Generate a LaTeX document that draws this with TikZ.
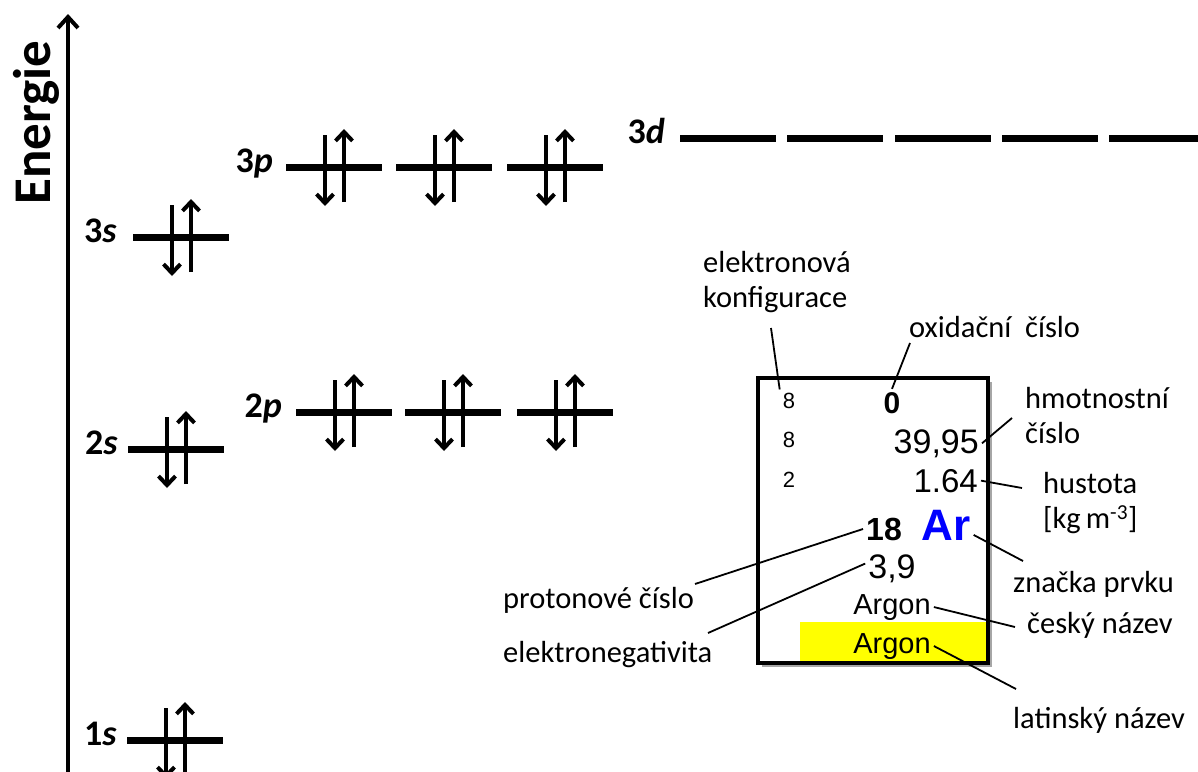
\documentclass[tikz,border=0pt]{standalone}
\usepackage{fontspec}
\setmainfont{Carlito}
\newfontfamily\arialfont{Liberation Sans}
\usetikzlibrary{arrows.meta,shadows}
\definecolor{tileyellow}{RGB}{255,255,0}
\definecolor{symblue}{RGB}{0,0,255}

\begin{document}
\begin{tikzpicture}[x=1pt, y=-1pt,
    bar/.style={line width=7pt},
    spin/.style={line width=4pt, -{Straight Barb[length=9pt,width=17pt]}},
    lvl/.style={font=\fontsize{36}{40}\selectfont\bfseries, anchor=base east, inner sep=0pt},
    lbl/.style={font=\fontsize{30.5}{35}\selectfont, anchor=base west, inner sep=0pt},
    lbltwo/.style={font=\fontsize{30.5}{35.5}\selectfont, anchor=north west, align=left, inner sep=0pt},
    val/.style={font=\arialfont\fontsize{#1}{#1}\selectfont, anchor=base, inner sep=3pt},
    valb/.style={font=\arialfont\bfseries\fontsize{#1}{#1}\selectfont, anchor=base, inner sep=3pt},
    leader/.style={line width=1.8pt}]
    \useasboundingbox (0,0) rectangle (1198,771);

    % Energy axis
    \draw[line width=4pt, -{Straight Barb[length=11pt,width=20pt]}] (68,775) -- (68,14);
    \node[font=\fontsize{53}{60}\selectfont\bfseries, rotate=90, anchor=base west, inner sep=0pt] (energy) at (50,205) {Energie};

    % Filled orbitals
    \foreach \x/\y in {127/740,128/449,133/237,296/412,405/412,517/412,286/167,396/167,507/167}{
        \draw[bar] (\x,\y) -- ++(96,0);
        \draw[spin] (\x+39,\y-32) -- (\x+39,\y+39);
        \draw[spin] (\x+58,\y+35) -- (\x+58,\y-38);
    }
    % Empty 3d orbitals
    \foreach \x in {680,787,895,1002}{
        \draw[bar] (\x,138) -- ++(96,0);
    }
    \draw[bar] (1109,138) -- (1198,138);

    % Level labels
    \node[lvl] (l1s) at (117,745) {1\textit{s}};
    \node[lvl] (l2s) at (118,454) {2\textit{s}};
    \node[lvl] (l3s) at (117,242) {3\textit{s}};
    \node[lvl] (l2p) at (282,417) {2\textit{p}};
    \node[lvl] (l3p) at (273,172) {3\textit{p}};
    \node[lvl] (l3d) at (665,143) {3\textit{d}};

    % Element tile
    \path[fill=white, drop shadow={shadow xshift=4pt, shadow yshift=-4pt, fill=black, opacity=0.35}] (758,378) rectangle (988,663);
    \fill[tileyellow] (800,622) rectangle (986,661);
    \draw[line width=4.5pt] (758,378) rectangle (988,663);

    % Tile values
    \node[val=22] (n8a) at (789,408) {8};
    \node[val=22] (n8b) at (789,447) {8};
    \node[val=22] (n2) at (789,487) {2};
    \node[valb=30] (nox) at (892,413) {0};
    \node[val=34, anchor=base east] (nmass) at (982,453) {39,95};
    \node[val=33, anchor=base east] (ndens) at (981,492) {1.64};
    \node[valb=32] (nZ) at (884,540) {18};
    \node[valb=44, text=symblue] (nsym) at (946,540) {Ar};
    \node[val=34] (nEN) at (892,578) {3,9};
    \node[val=29] (ncz) at (892,614) {Argon};
    \node[val=29] (nlat) at (892,653) {Argon};

    % Labels
    \node[lbltwo] (lconf) at (703,251) {elektronová\\konfigurace};
    \node[lbl] (lox) at (909,337) {oxidační~~číslo};
    \node[lbltwo] (lmass) at (1025,387) {hmotnostní\\číslo};
    \node[lbltwo] (ldens) at (1043,472) {hustota\\{[}kg\,m\textsuperscript{-3}]};
    \node[lbl] (lsym) at (1013,592) {značka prvku};
    \node[lbl] (lcz) at (1027,633) {český název};
    \node[lbl] (llat) at (1013,728) {latinský název};
    \node[lbl] (lprot) at (503,608) {protonové číslo};
    \node[lbl] (lEN) at (503,662) {elektronegativita};

    % Leader ends
    \coordinate (cconf) at (771,328);
    \coordinate (cox) at (910,343);
    \coordinate (cmass) at (1012,418);
    \coordinate (cdens) at (1022,488);
    \coordinate (csym) at (1023,561);
    \coordinate (ccz) at (1015,627);
    \coordinate (clat) at (1016,689);
    \coordinate (cprot) at (695,584);
    \coordinate (cEN) at (708,633);

    % Leaders
    \draw[leader] (n8a.north west) -- (cconf);
    \draw[leader] (nox.north) -- (cox);
    \draw[leader] (nmass.east) -- (cmass);
    \draw[leader] (ndens.east) -- (cdens);
    \draw[leader] (nsym.-20) -- (csym);
    \draw[leader] (ncz.east) -- (ccz);
    \draw[leader] (nlat.east) -- (clat);
    \draw[leader] (nZ.west) -- (cprot);
    \draw[leader] (nEN.170) -- (cEN);
\end{tikzpicture}
\end{document}
